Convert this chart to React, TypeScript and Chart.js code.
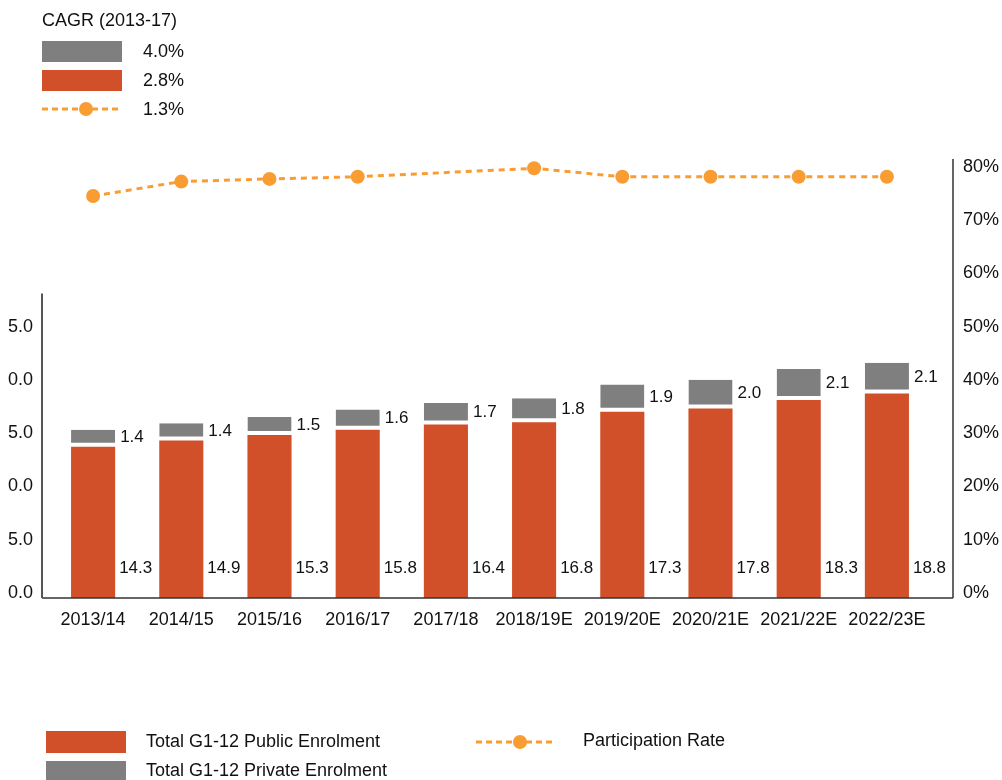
import React, { useEffect, useRef } from "react";
import { Chart, registerables } from "chart.js";

Chart.register(...registerables);

const categories = [
  "2013/14", "2014/15", "2015/16", "2016/17", "2017/18",
  "2018/19E", "2019/20E", "2020/21E", "2021/22E", "2022/23E",
];
// bar values as drawn in the picture
const publicEnrolment = [14.2, 14.8, 15.3, 15.8, 16.3, 16.5, 17.5, 17.8, 18.6, 19.2];
const privateEnrolment = [1.6, 1.6, 1.7, 1.9, 2.0, 2.25, 2.55, 2.7, 2.9, 2.9];
// value labels as printed in the picture
const publicLabels = ["14.3", "14.9", "15.3", "15.8", "16.4", "16.8", "17.3", "17.8", "18.3", "18.8"];
const privateLabels = ["1.4", "1.4", "1.5", "1.6", "1.7", "1.8", "1.9", "2.0", "2.1", "2.1"];
const participationRate = [75.5, 78.2, 78.7, 79.1, null, 80.7, 79.1, 79.1, 79.1, 79.1];

const cagrTitle = "CAGR (2013-17)";
const cagrValues = ["4.0%", "2.8%", "1.3%"];
const seriesNames = ["Total G1-12 Public Enrolment", "Total G1-12 Private Enrolment", "Participation Rate"];

const leftAxisTop = 28.6;
const leftTickMax = 25;

const ORANGE = "#D14F29";
const GRAY = "#7F7F7F";
const LINE = "#F99D33";
const TEXT = "#111111";
const FONT = "'Liberation Sans', Arial, Helvetica, sans-serif";

const axesPlugin = {
  id: "customAxes",
  afterDraw(chart: any) {
    const { ctx, chartArea, scales } = chart;
    const leftX = chartArea.left - 7;
    const rightX = chartArea.right + 22;
    ctx.save();
    ctx.strokeStyle = "#333";
    ctx.lineWidth = 1.5;
    ctx.beginPath();
    ctx.moveTo(leftX, chartArea.bottom);
    ctx.lineTo(rightX, chartArea.bottom);
    ctx.stroke();
    ctx.beginPath();
    ctx.moveTo(rightX, chartArea.top - 13);
    ctx.lineTo(rightX, chartArea.bottom);
    ctx.stroke();
    ctx.strokeStyle = "#555";
    ctx.lineWidth = 2;
    ctx.beginPath();
    ctx.moveTo(leftX, scales.y.getPixelForValue(leftAxisTop));
    ctx.lineTo(leftX, chartArea.bottom);
    ctx.stroke();
    ctx.restore();
  },
};

const labelsPlugin = {
  id: "valueLabels",
  afterDatasetsDraw(chart: any) {
    const { ctx, chartArea } = chart;
    ctx.save();
    ctx.font = `17px ${FONT}`;
    ctx.fillStyle = TEXT;
    ctx.textAlign = "left";
    ctx.textBaseline = "middle";
    const pubMeta = chart.getDatasetMeta(0);
    pubMeta.data.forEach((bar: any, i: number) => {
      ctx.fillText(publicLabels[i], bar.x + bar.width / 2 + 4, chartArea.bottom - 30);
    });
    const privMeta = chart.getDatasetMeta(1);
    privMeta.data.forEach((bar: any, i: number) => {
      ctx.fillText(privateLabels[i], bar.x + bar.width / 2 + 5, (bar.y + bar.base - 4) / 2 + 1);
    });
    ctx.restore();
  },
};

function DashDot({ width = 80 }: { width?: number }) {
  return (
    <svg width={width} height={16} style={{ display: "block" }}>
      <line x1={0} y1={8} x2={width} y2={8} stroke={LINE} strokeWidth={3} strokeDasharray="6 4" />
      <circle cx={width * 0.55} cy={8} r={7} fill={LINE} />
    </svg>
  );
}

const txt = (left: number, cy: number, s: string, size = 18): React.ReactNode => (
  <div
    style={{
      position: "absolute",
      left,
      top: cy - 11,
      height: 22,
      lineHeight: "22px",
      fontSize: size,
      color: TEXT,
      whiteSpace: "nowrap",
    }}
  >
    {s}
  </div>
);

export default function App() {
  const ref = useRef<HTMLCanvasElement>(null);

  useEffect(() => {
    if (!ref.current) return;
    const chart = new Chart(ref.current, {
      type: "bar",
      data: {
        labels: categories,
        datasets: [
          {
            type: "bar",
            label: seriesNames[0],
            data: publicEnrolment,
            backgroundColor: ORANGE,
            borderWidth: 0,
            yAxisID: "y",
            order: 2,
            barPercentage: 0.5,
            categoryPercentage: 1,
          },
          {
            type: "bar",
            label: seriesNames[1],
            data: privateEnrolment,
            backgroundColor: GRAY,
            borderColor: "#ffffff",
            borderWidth: { top: 0, left: 0, right: 0, bottom: 4 },
            borderSkipped: false,
            yAxisID: "y",
            order: 2,
            barPercentage: 0.5,
            categoryPercentage: 1,
          },
          {
            type: "line",
            label: seriesNames[2],
            data: participationRate,
            yAxisID: "y1",
            borderColor: LINE,
            backgroundColor: LINE,
            borderWidth: 3,
            borderDash: [6, 5],
            pointRadius: 7,
            pointHoverRadius: 7,
            pointBackgroundColor: LINE,
            pointBorderWidth: 0,
            spanGaps: true,
            tension: 0,
            clip: false,
            order: 0,
          } as any,
        ],
      },
      options: {
        responsive: false,
        animation: false,
        devicePixelRatio: 1,
        layout: { padding: { left: 8, right: 0, top: 172, bottom: 0 } },
        plugins: { legend: { display: false }, tooltip: { enabled: false } },
        scales: {
          x: {
            stacked: true,
            grid: { display: false },
            border: { display: false },
            ticks: {
              font: { size: 18, family: FONT },
              color: TEXT,
              padding: 3,
              maxRotation: 0,
              autoSkip: false,
            },
            afterFit: (s: any) => {
              s.height = 182;
            },
          },
          y: {
            stacked: true,
            position: "left",
            min: 0,
            max: 40,
            grid: { display: false },
            border: { display: false },
            ticks: {
              stepSize: 5,
              font: { size: 18, family: FONT },
              color: TEXT,
              padding: 8,
              labelOffset: -5,
              callback: (v: any) => (Number(v) <= leftTickMax ? Number(v).toFixed(1) : ""),
            },
            afterFit: (s: any) => {
              s.width = 41;
            },
          },
          y1: {
            position: "right",
            min: 0,
            max: 80,
            grid: { display: false },
            border: { display: false },
            ticks: {
              stepSize: 10,
              font: { size: 18, family: FONT },
              color: TEXT,
              padding: 24,
              labelOffset: -5,
              callback: (v: any) => `${v}%`,
            },
            afterFit: (s: any) => {
              s.width = 71;
            },
          },
        },
      } as any,
      plugins: [axesPlugin, labelsPlugin],
    });
    return () => chart.destroy();
  }, []);

  return (
    <div
      style={{
        position: "fixed",
        left: 0,
        top: 0,
        width: 1002,
        height: 780,
        background: "#fff",
        fontFamily: FONT,
        overflow: "hidden",
      }}
    >
      <canvas ref={ref} width={1002} height={780} style={{ position: "absolute", left: 0, top: 0 }} />
      {txt(42, 20, cagrTitle)}
      <div style={{ position: "absolute", left: 42, top: 41, width: 80, height: 21, background: GRAY }} />
      <div style={{ position: "absolute", left: 42, top: 70, width: 80, height: 21, background: ORANGE }} />
      <div style={{ position: "absolute", left: 42, top: 101 }}>
        <DashDot />
      </div>
      {txt(143, 51, cagrValues[0])}
      {txt(143, 80, cagrValues[1])}
      {txt(143, 109, cagrValues[2])}

      <div style={{ position: "absolute", left: 46, top: 731, width: 80, height: 22, background: ORANGE }} />
      <div style={{ position: "absolute", left: 46, top: 761, width: 80, height: 22, background: GRAY }} />
      {txt(146, 741, seriesNames[0])}
      {txt(146, 770, seriesNames[1])}
      <div style={{ position: "absolute", left: 476, top: 734 }}>
        <DashDot />
      </div>
      {txt(583, 740, seriesNames[2])}
    </div>
  );
}
